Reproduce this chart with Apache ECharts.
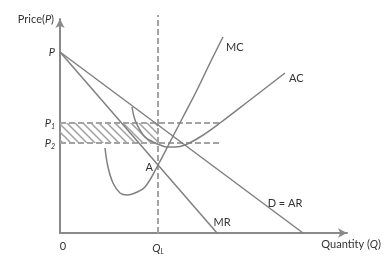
<!DOCTYPE html>
<html><head><meta charset="utf-8">
<script src="https://cdn.jsdelivr.net/npm/echarts@6/dist/echarts.min.js"></script>
<style>html,body{margin:0;padding:0;background:#fff}#c{width:387px;height:262px}</style>
</head><body><div id="c"></div>
<script>
// Curve data (quantity, price) in chart units
const demandAR = [[0,181],[243,0]];
const marginalRevenue = [[0,181],[157,0]];
const marginalCost = [[45,85],[48,66],[53,50],[60,40],[67,38],[75,40],[85,46],[98,68],[110,91],[123,116],[137,143],[150,170],[163,196]];
const averageCost = [[72,126],[75,113],[80,103],[85,96],[93,91],[100,88],[107,86],[115,86],[125,88],[140,96],[160,110],[190,133],[225,160]];
const quantityQL = 98;
const priceP = 181, priceP1 = 110, priceP2 = 90;
const guideEnd = 162;     // end of horizontal price guides
const guideTop = 218;     // top of the Q_L guide
const xTickValues = [0, quantityQL];
const yTickValues = [priceP2, priceP1, priceP];
const pointA = [quantityQL, 68];

const grey = '#808080', dashGrey = '#a3a3a3', txt = '#333';
const font = 'Lato, "Open Sans", sans-serif';

const pc = document.createElement('canvas'); pc.width = 8; pc.height = 8;
const ctx = pc.getContext('2d'); ctx.strokeStyle = '#a0a0a0'; ctx.lineWidth = 1.5;
ctx.beginPath(); ctx.moveTo(-2,-2); ctx.lineTo(10,10); ctx.moveTo(-2,6); ctx.lineTo(2,10); ctx.moveTo(6,-2); ctx.lineTo(10,2); ctx.stroke();

const sub = {fontSize: 7, fontStyle: 'italic', fontFamily: font, color: txt, padding: [7,0,0,0]};
const it = {fontSize: 11, fontStyle: 'italic', fontFamily: font, color: txt};
const nm = {fontSize: 11, fontFamily: font, color: txt};

const chart = echarts.init(document.getElementById('c'), null, {renderer: 'canvas'});
const curve = (name, data, extra) => Object.assign({
  type: 'line', name, data, symbol: 'none', smooth: false, animation: false,
  lineStyle: {color: grey, width: 1.5}, z: 3
}, extra || {});
chart.setOption({
  animation: false,
  grid: {left: 60, right: 40, top: 19, bottom: 29},
  xAxis: {
    type: 'value', min: 0, max: 287,
    splitLine: {show: false},
    axisLine: {lineStyle: {color: '#8a8a8a', width: 2}, symbol: ['none','arrow'], symbolSize: [7,9]},
    axisTick: {show: false},
    axisLabel: {customValues: xTickValues, margin: 8, color: txt, fontFamily: font, fontSize: 11,
      formatter: v => v === 0 ? '{n|0}' : '{q|Q}{s|L}',
      rich: {n: Object.assign({}, nm, {padding:[0,0,0,6]}), q: it, s: sub}},
    name: '{n|Quantity (}{q|Q}{n|)}', nameLocation: 'end', nameGap: 34,
    nameTextStyle: {align: 'right', verticalAlign: 'top', padding: [6,0,0,0], rich: {n: nm, q: it}}
  },
  yAxis: {
    type: 'value', min: 0, max: 214,
    splitLine: {show: false},
    axisLine: {lineStyle: {color: '#8a8a8a', width: 2}, symbol: ['none','arrow'], symbolSize: [7,9]},
    axisTick: {show: false},
    axisLabel: {customValues: yTickValues, margin: 5, color: txt, fontFamily: font, fontSize: 11,
      formatter: v => v === priceP ? '{p|P}' : (v === priceP1 ? '{p|P}{s|1}' : '{p|P}{s|2}'),
      rich: {p: it, s: sub}},
    name: '{n|Price(}{p|P}{n|)}', nameLocation: 'end', nameGap: 0,
    nameTextStyle: {align: 'right', verticalAlign: 'middle', padding: [0,6,0,0], rich: {n: nm, p: it}}
  },
  series: [
    curve('D = AR', demandAR, {markPoint: {symbol: 'circle', symbolSize: 0, animation: false,
      data: [{coord: [225, 30], label: {show: true, formatter: 'D = AR', position: 'inside', color: txt, fontFamily: font, fontSize: 11}}]}}),
    curve('MR', marginalRevenue, {markPoint: {symbol: 'circle', symbolSize: 0, animation: false,
      data: [{coord: [162, 11], label: {show: true, formatter: 'MR', position: 'inside', color: txt, fontFamily: font, fontSize: 11}},
             {coord: pointA, label: {show: true, formatter: 'A', position: 'left', distance: 5, offset: [0, 2], color: txt, fontFamily: font, fontSize: 11}}]}}),
    curve('MC', marginalCost, {smooth: 0.4, endLabel: {show: true, formatter: 'MC', offset: [-5, 10], color: txt, fontFamily: font, fontSize: 11}}),
    curve('AC', averageCost, {smooth: 0.4, endLabel: {show: true, formatter: 'AC', offset: [-4, 5], color: txt, fontFamily: font, fontSize: 11}}),
    curve('QL', [[quantityQL, 0], [quantityQL, guideTop]], {clip: false, lineStyle: {color: dashGrey, width: 2, type: [6,3]}, z: 2}),
    curve('P1', [[0, priceP1], [guideEnd, priceP1]], {lineStyle: {color: dashGrey, width: 2, type: [6,3]}, z: 2}),
    curve('P2', [[0, priceP2], [guideEnd, priceP2]], {lineStyle: {color: dashGrey, width: 2, type: [6,3]}, z: 2,
      markArea: {silent: true, animation: false, itemStyle: {color: {image: pc, repeat: 'repeat'}},
        data: [[{coord: [0, priceP1]}, {coord: [quantityQL, priceP2]}]]}})
  ]
});
</script></body></html>
